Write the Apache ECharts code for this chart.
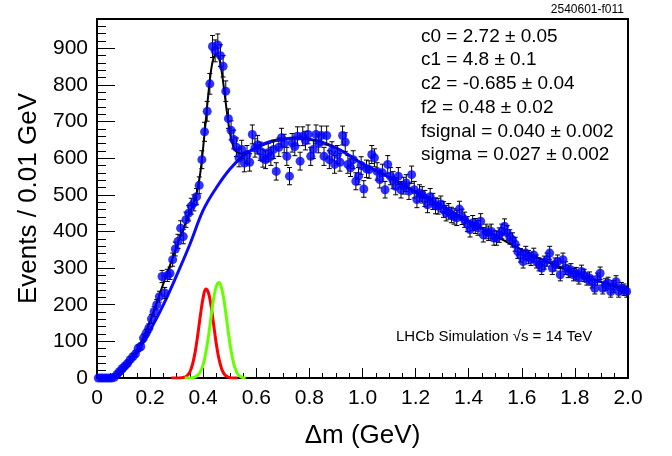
<!DOCTYPE html>
<html><head><meta charset="utf-8">
<script src="https://cdn.jsdelivr.net/npm/echarts@6/dist/echarts.min.js"></script>
<style>html,body{margin:0;padding:0;background:#fff}#c{width:672px;height:456px}</style>
</head><body><div id="c"></div>
<script>
// Histogram: bins of 0.01 GeV starting at 0
const binStart = 0.005, binWidth = 0.01;
const counts = [
0,0,0,0,0,0,2,10,18,26,
33,40,50,58,66,81,86,109,122,136,
161,181,200,222,277,232,280,286,323,352,
373,409,386,432,450,469,478,495,526,596,
672,728,803,905,893,909,880,851,783,708,
676,651,630,601,624,587,610,589,665,628,
637,619,600,596,615,605,624,564,630,656,
640,605,551,642,632,660,592,660,648,665,
605,624,665,640,662,605,662,596,620,583,
610,589,662,644,583,574,596,537,551,580,
516,571,569,610,601,564,542,560,514,583,
551,540,523,551,514,525,532,510,555,514,
487,505,500,490,473,495,482,470,469,475,
460,450,455,445,441,437,461,440,432,420,
405,423,415,410,428,391,400,395,400,382,
382,390,400,414,396,385,377,365,345,335,
318,341,330,325,336,318,310,300,315,323,
341,300,310,318,282,323,300,291,295,282,
285,273,291,280,270,273,262,245,270,286,
245,255,259,236,250,263,236,245,241,236
];
// Background fit (blue)
const bgX = [0.06,0.08,0.10,0.12,0.15,0.20,0.25,0.30,0.35,0.40,0.45,0.50,0.55,0.60,0.65,0.70,0.75,0.80,0.85,0.90,0.95,1.00,1.10,1.20,1.30,1.40,1.45];
const bgY = [0,5,18,35,68,130,200,280,365,458,520,570,606,630,645,652,655,652,643,628,608,585,548,508,468,428,408];
// Total fit (black)
const totX = [0,0.06,0.08,0.10,0.12,0.14,0.16,0.18,0.20,0.22,0.24,0.26,0.28,0.30,0.32,0.34,0.36,0.37,0.38,0.39,0.40,0.41,0.42,0.43,0.44,0.45,0.46,0.47,0.48,0.49,0.50,0.51,0.52,0.54,0.56,0.60,0.65,0.70,0.75,0.80,0.85,0.90,0.95,1.00,1.10,1.20,1.30,1.40,1.50,1.60,1.70,1.80,1.90,2.00];
const totY = [0,0,8,24,42,63,90,120,155,195,237,278,318,358,397,435,470,490,520,565,630,705,780,842,876,885,872,835,780,722,672,640,622,613,615,628,643,651,655,652,643,628,608,585,548,508,468,428,388,350,316,287,262,240];
// Signal components
const redX = [0.28,0.30,0.31,0.32,0.33,0.34,0.35,0.36,0.37,0.38,0.39,0.40,0.41,0.42,0.43,0.44,0.45,0.46,0.47,0.48,0.49,0.50,0.51,0.53];
const redY = [0,0,0,1,2,7,17,38,72,120,174,220,243,232,195,142,90,50,24,10,4,1,0,0];
const greenX = [0.33,0.35,0.36,0.37,0.38,0.39,0.40,0.41,0.42,0.43,0.44,0.45,0.46,0.47,0.48,0.49,0.50,0.51,0.52,0.53,0.54,0.55,0.56];
const greenY = [0,0,1,3,8,18,37,70,115,170,220,252,261,243,204,150,97,55,27,11,4,1,0];
const paramLines = ['c0 = 2.72 \u00b1 0.05','c1 = 4.8 \u00b1 0.1','c2 = -0.685 \u00b1 0.04','f2 = 0.48 \u00b1 0.02','fsignal = 0.040 \u00b1 0.002','sigma = 0.027 \u00b1 0.002'];

const pts = counts.map((c,i)=>[+(binStart+i*binWidth).toFixed(3), c]);
const errs = counts.map((c,i)=>[+(binStart+i*binWidth).toFixed(3), c, Math.sqrt(c)]);
const zip = (a,b)=>a.map((x,i)=>[x,b[i]]);

const chart = echarts.init(document.getElementById('c'));
const FONT = 'Liberation Sans, Arial, Helvetica, sans-serif';
const graphics = paramLines.map((t,i)=>({
  type:'text', left:421, top:27+i*23.7,
  style:{text:t, font:'19px '+FONT, fill:'#000'}
}));
graphics.push({type:'text', right:48, top:4, style:{text:'2540601-f011', font:'12px '+FONT, fill:'#000'}});
graphics.push({type:'text', left:396, top:329, style:{text:'LHCb Simulation \u221As = 14 TeV', font:'15px '+FONT, fill:'#000'}});

chart.setOption({
  animation:false,
  backgroundColor:'#fff',
  grid:{left:97, right:44, top:19, bottom:78, show:true, borderColor:'#000', borderWidth:2},
  xAxis:{type:'value', min:0, max:2, interval:0.2,
    name:'\u0394m (GeV)', nameLocation:'middle', nameGap:45,
    nameTextStyle:{fontSize:26, fontFamily:FONT, color:'#000'},
    axisLine:{lineStyle:{color:'#000', width:2}},
    axisTick:{inside:true, length:10, lineStyle:{color:'#000'}},
    minorTick:{show:true, splitNumber:4, length:5, lineStyle:{color:'#000'}},
    splitLine:{show:false},
    axisLabel:{fontSize:21, fontFamily:FONT, color:'#000', margin:10,
      formatter:v=> v===0 ? '0' : v.toFixed(1)}
  },
  yAxis:{type:'value', min:0, max:980, interval:100,
    name:'Events / 0.01 GeV', nameLocation:'middle', nameGap:53,
    nameTextStyle:{fontSize:26, fontFamily:FONT, color:'#000'},
    axisLine:{lineStyle:{color:'#000', width:2}},
    axisTick:{inside:true, length:18, lineStyle:{color:'#000'}},
    minorTick:{show:true, splitNumber:5, length:9, lineStyle:{color:'#000'}},
    splitLine:{show:false},
    axisLabel:{fontSize:21, fontFamily:FONT, color:'#000', margin:9, showMaxLabel:false,
      formatter:v=> v>950 ? '' : String(v)}
  },
  graphic: graphics,
  series:[
    {type:'line', data:zip(totX,totY), smooth:0.3, showSymbol:false, lineStyle:{color:'#000', width:2}, z:2},
    {type:'line', data:zip(bgX,bgY), smooth:0.4, showSymbol:false, lineStyle:{color:'#0a0aff', width:3}, z:3},
    {type:'line', data:zip(redX,redY), smooth:0.4, showSymbol:false, lineStyle:{color:'#ff0000', width:3}, z:3},
    {type:'line', data:zip(greenX,greenY), smooth:0.4, showSymbol:false, lineStyle:{color:'#66ff00', width:3}, z:3},
    {type:'custom', data:errs, z:4,
      renderItem:(params, api)=>{
        const x=api.value(0), y=api.value(1), e=api.value(2);
        if (e<=0) return null;
        const top=api.coord([x,y+e]), bot=api.coord([x,y-e]);
        const w=2.5;
        return {type:'group', children:[
          {type:'line', shape:{x1:top[0],y1:top[1],x2:bot[0],y2:bot[1]}, style:{stroke:'#000', lineWidth:1}},
          {type:'line', shape:{x1:top[0]-w,y1:top[1],x2:top[0]+w,y2:top[1]}, style:{stroke:'#000', lineWidth:1}},
          {type:'line', shape:{x1:bot[0]-w,y1:bot[1],x2:bot[0]+w,y2:bot[1]}, style:{stroke:'#000', lineWidth:1}}
        ]};
      }},
    {type:'scatter', data:pts, symbol:'circle', symbolSize:9, itemStyle:{color:'#0000ff'}, z:5}
  ]
});
</script></body></html>
